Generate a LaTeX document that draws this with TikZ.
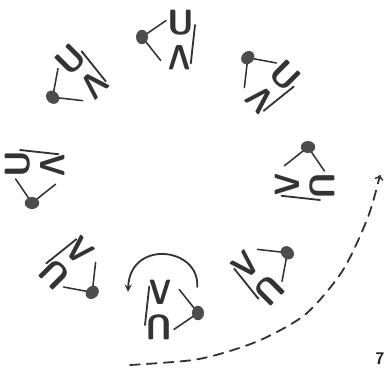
\documentclass[tikz,border=0pt]{standalone}
\begin{document}
\begin{tikzpicture}[
  ink/.style={draw=black!80,line width=1.3pt,line cap=round},
  letter/.style={inner sep=0pt,text=black!80,font=\sffamily\bfseries\fontsize{25}{25}\selectfont}]
\useasboundingbox (-4.25,-4.8) rectangle (5.425,4.375);
\foreach \a in {0,45,...,315}{
  \begin{scope}[rotate=\a,transform shape]
    \node[letter] (u\a) at (0.275,3.8) {U};
    \node[letter,rotate=180,xscale=0.85] (v\a) at (0.25,2.925) {V};
    \coordinate (p\a) at (-0.7,3.45);
    \draw[ink] (0.625,3.75) -- (0.52,2.79);
    \draw[ink,line width=1.1pt] (p\a) -- (-0.1,3.86);
    \draw[ink,line width=1.1pt] (p\a) -- (-0.23,2.86);
    \fill[black!70] (p\a) ellipse[x radius=0.15,y radius=0.18];
  \end{scope}
}
\draw[ink,->,>=stealth] (0.68,-2.8) .. controls (0.75,-1.8) and (-1.0,-1.6) .. (-1.05,-2.92);
\draw[ink,dash pattern=on 7pt off 5pt,->] plot[smooth] coordinates {(-1.0,-4.75) (0.575,-4.625) (1.575,-4.375) (2.425,-4.05) (3.425,-3.45) (4.325,-2.375) (4.95,-1.05) (5.25,0)};
\node[font=\sffamily\bfseries\large,text=black!85] (fig) at (5.25,-4.6) {7};
\end{tikzpicture}
\end{document}
